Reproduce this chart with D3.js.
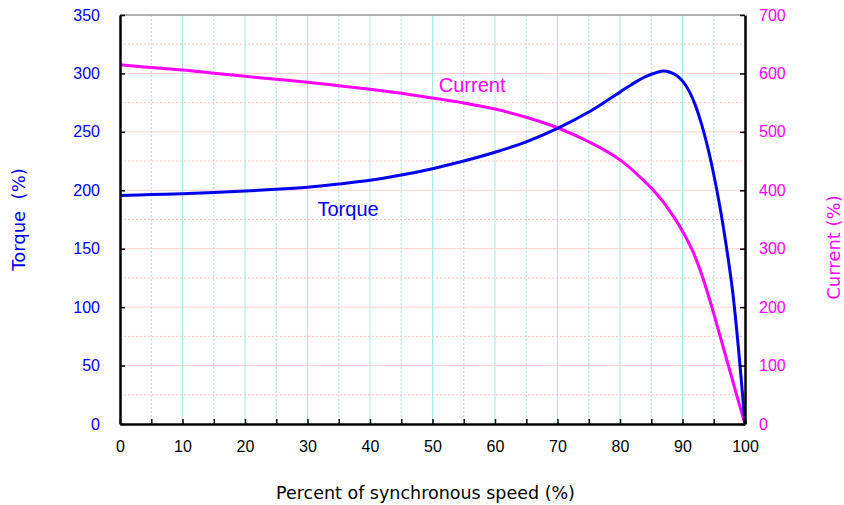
<!DOCTYPE html>
<html>
<head>
<meta charset="utf-8">
<script src="https://cdn.jsdelivr.net/npm/d3@7"></script>
<style>
  body { margin: 0; background: #fff; }
  svg { display: block; }
</style>
</head>
<body>
<svg id="chart" width="844" height="505"></svg>
<script>
// ---- Data ----
const torqueSpeed = [0,5,10,15,20,25,30,35,40,45,50,55,60,65,70,75,78,80,82,84,86,87,88,89,90,91,92,93,94,95,96,97,98,99,100];
const torqueValues = [195.6,196.3,197,198,199.3,200.8,202.7,205.3,208.5,213,218.5,225,232.5,241.5,253,267,277,284,291,297,301,302,301,298.5,293.5,285.5,273.5,257.5,237.5,213.5,185.5,152.5,114.5,62,0];

const currentSpeed = [0,5,10,15,20,25,30,35,40,45,50,55,60,65,70,75,80,85,86,87,88,89,90,91,92,93,94,95,96,97,98,99,100];
const currentValues = [615,610,606,600.5,595,590,585,579,573,566,558,549.5,539,525,507,483,452,404,392,379,364,348,330,310,287,258,225,189,151,113,75,37,0];

const xTicks = [0,10,20,30,40,50,60,70,80,90,100];
const torqueTicks = [0,50,100,150,200,250,300,350];
const currentTicks = [0,100,200,300,400,500,600,700];

const xTitle = "Percent of synchronous speed (%)";
const leftTitle = "Torque\u00a0\u00a0(%)";
const rightTitle = "Current (%)";

// ---- Layout ----
const svg = d3.select("#chart");
const L = 120, R = 745, T = 15, B = 424;
const blue = "#0000ee", magenta = "#ff00ff";

const x = d3.scaleLinear().domain([0,100]).range([L,R]);
const yT = d3.scaleLinear().domain([0,350]).range([B,T]);
const yC = d3.scaleLinear().domain([0,700]).range([B,T]);

// grid: horizontal
const g = svg.append("g");
d3.range(25, 350, 25).forEach(v => {
  const major = v % 50 === 0;
  g.append("line").attr("x1", L).attr("x2", R).attr("y1", yT(v)).attr("y2", yT(v))
    .attr("stroke", major ? "#ffd0d0" : "#ffc0c0").attr("stroke-width", 1)
    .attr("stroke-dasharray", major ? null : "2,2");
});
// grid: vertical
d3.range(5, 100, 5).forEach(v => {
  const major = v % 10 === 0;
  g.append("line").attr("x1", x(v)).attr("x2", x(v)).attr("y1", T).attr("y2", B)
    .attr("stroke", major ? "#a8e8e8" : "#a0e0e0").attr("stroke-width", 1)
    .attr("stroke-dasharray", major ? null : "2,2");
});
// top border
svg.append("line").attr("x1", L).attr("x2", R).attr("y1", T).attr("y2", T)
  .attr("stroke", "#999").attr("stroke-width", 1.5);

// curves
const lineT = d3.line().x((d,i) => x(torqueSpeed[i])).y(d => yT(d)).curve(d3.curveCatmullRom.alpha(0.5));
const lineC = d3.line().x((d,i) => x(currentSpeed[i])).y(d => yC(d)).curve(d3.curveCatmullRom.alpha(0.5));

svg.append("path").attr("d", lineC(currentValues)).attr("fill","none")
  .attr("stroke", magenta).attr("stroke-width", 3).attr("stroke-linejoin","round");
svg.append("path").attr("d", lineT(torqueValues)).attr("fill","none")
  .attr("stroke", blue).attr("stroke-width", 3).attr("stroke-linejoin","round");

// axes
const axB = svg.append("g").attr("transform", `translate(0,${B})`)
  .call(d3.axisBottom(x).tickValues(d3.range(0,101,5)).tickSizeInner(-5).tickSizeOuter(0)
    .tickFormat(d => xTicks.includes(d) ? d : ""));
const axL = svg.append("g").attr("transform", `translate(${L},0)`)
  .call(d3.axisLeft(yT).tickValues(torqueTicks).tickSizeInner(-5).tickSizeOuter(0));
const axR = svg.append("g").attr("transform", `translate(${R},0)`)
  .call(d3.axisRight(yC).tickValues(currentTicks).tickSizeInner(-5).tickSizeOuter(0));

[axB, axL, axR].forEach(a => {
  a.select(".domain").attr("stroke", "#000").attr("stroke-width", 2.5);
  a.selectAll(".tick line").attr("stroke", "#000").attr("stroke-width", 1.5);
  a.selectAll("text").attr("font-family", "'Liberation Sans', Arial, Helvetica, sans-serif")
    .attr("font-size", 16);
});
axB.selectAll("text").attr("fill", "#000").attr("dy", null).attr("y", 28);
axL.selectAll("text").attr("fill", blue).attr("x", -20);
axR.selectAll("text").attr("fill", magenta).attr("x", 14);

// in-plot labels
svg.append("text").attr("x", x(31.6)).attr("y", yT(178)).text("Torque")
  .attr("font-family", "'Liberation Sans', Arial, sans-serif").attr("font-size", 20).attr("fill", blue);
svg.append("text").attr("x", x(51)).attr("y", yC(568)).text("Current")
  .attr("font-family", "'Liberation Sans', Arial, sans-serif").attr("font-size", 20).attr("fill", magenta);

// axis titles
svg.append("text").attr("x", (L+R)/2 - 7).attr("y", 499).attr("text-anchor","middle")
  .text(xTitle).attr("font-family", "'DejaVu Sans', Verdana, sans-serif").attr("font-size", 17.5).attr("fill", "#000");
svg.append("text").attr("transform", `translate(25,${(T+B)/2}) rotate(-90)`).attr("text-anchor","middle")
  .text(leftTitle).attr("font-family", "'DejaVu Sans', Verdana, sans-serif").attr("font-size", 18).attr("fill", blue);
svg.append("text").attr("transform", `translate(840,${(T+B)/2+28}) rotate(-90)`).attr("text-anchor","middle")
  .text(rightTitle).attr("font-family", "'DejaVu Sans', Verdana, sans-serif").attr("font-size", 18).attr("fill", magenta);
</script>
</body>
</html>
